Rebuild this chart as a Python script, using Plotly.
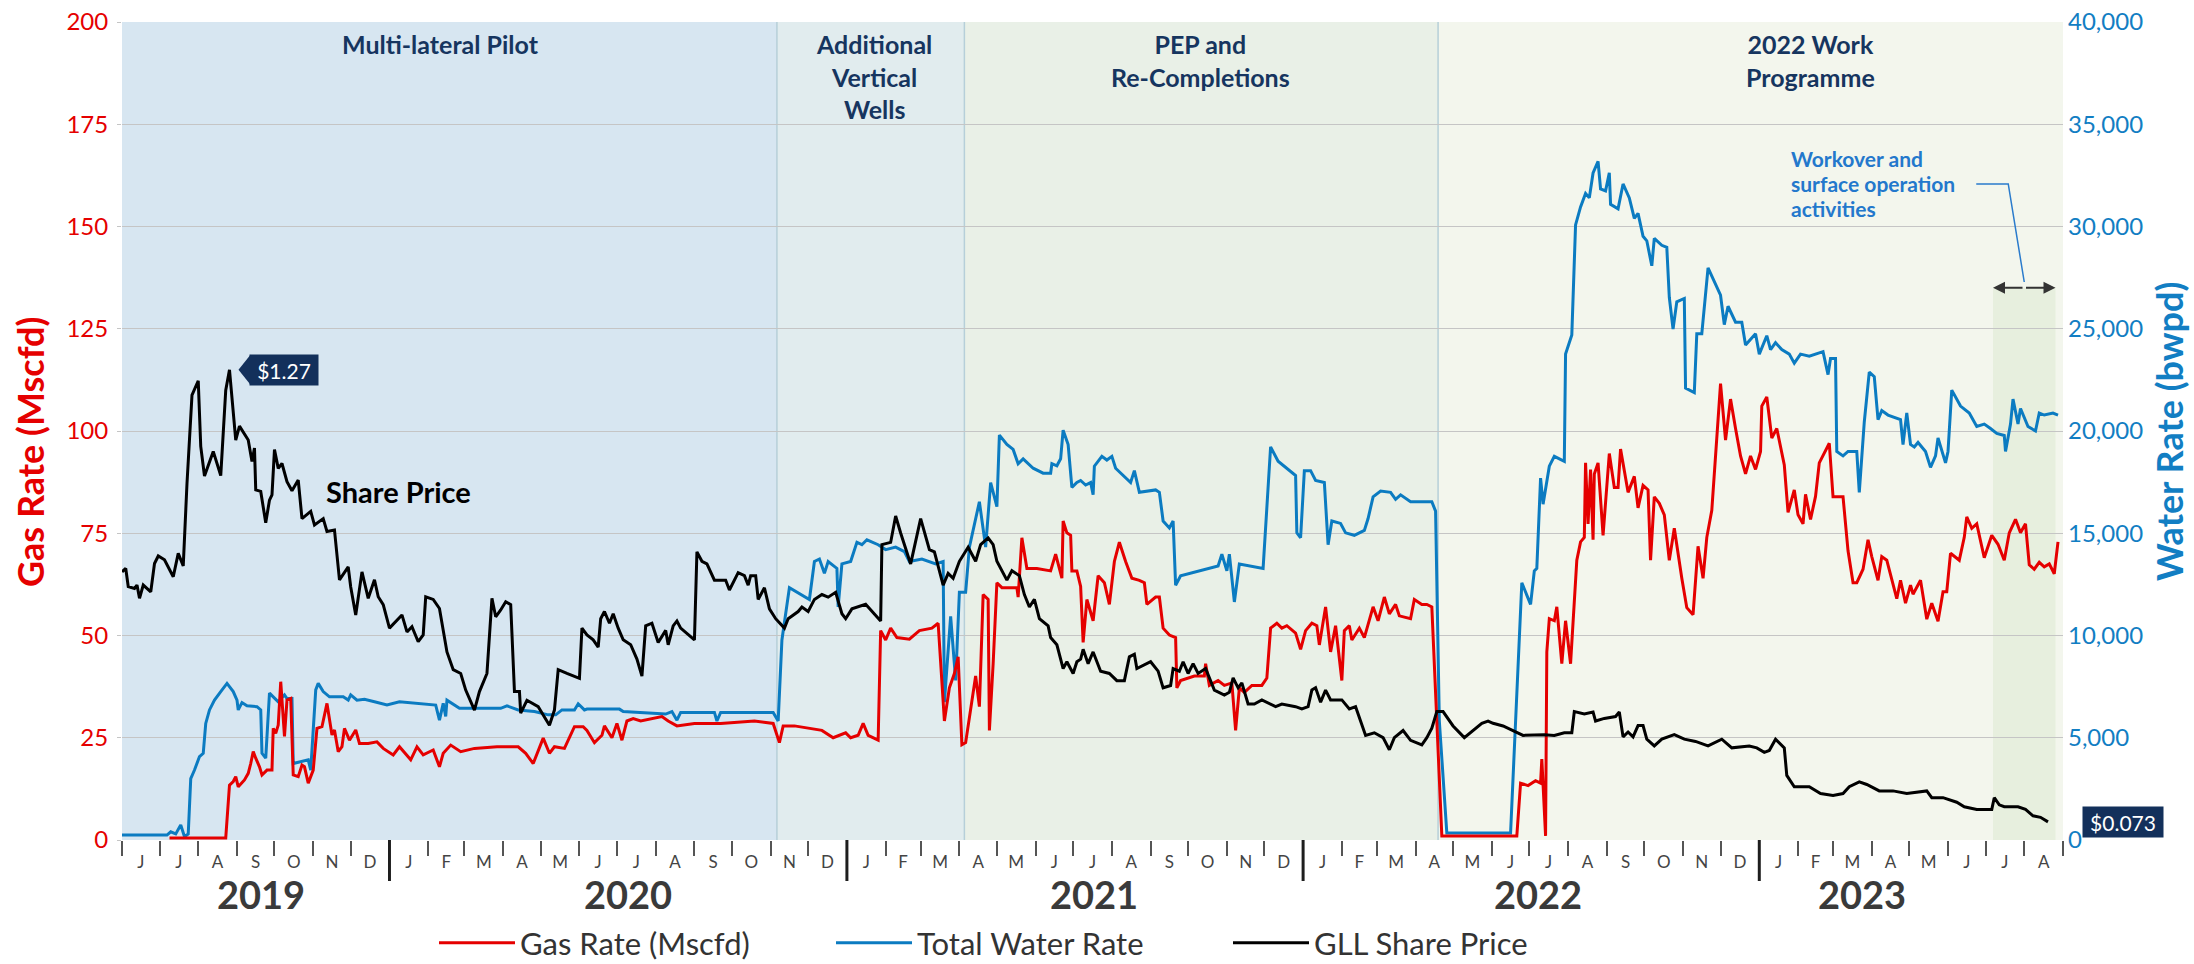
import pandas as pd
import plotly.graph_objects as go

# ---------------------------------------------------------------- data
# x values are day offsets counted from 1 Jan 2020 (negative = 2019)
BASE_DATE = pd.Timestamp("2020-01-01")
X_START, X_END = "2019-06-01", "2023-09-01"

GAS_POINTS = [  # (day, Mscfd)
    (-176, 0.5), (-131, 0.5), (-128, 13.4), (-125, 14.3), (-123, 15.5), (-121, 13.0), (-116, 14.7),
    (-113, 16.3), (-111, 18.7), (-109, 21.6), (-107, 20.0), (-104, 17.9), (-102, 15.9), (-98, 17.1),
    (-94, 17.1), (-93, 27.3), (-91, 26.1), (-89, 28.1), (-87, 38.7), (-84, 25.3), (-82, 34.2),
    (-79, 34.6), (-77, 15.9), (-73, 15.5), (-70, 18.3), (-68, 17.9), (-65, 13.9), (-61, 17.1),
    (-58, 27.3), (-54, 27.7), (-50, 33.4), (-46, 25.7), (-44, 26.9), (-41, 21.6), (-38, 22.8),
    (-36, 27.3), (-32, 24.4), (-27, 26.9), (-24, 23.6), (-17, 23.6), (-10, 24.0), (-5, 22.4),
    (3, 20.8), (8, 22.8), (17, 19.6), (22, 22.8), (27, 20.8), (35, 22.0), (40, 17.9), (43, 21.2),
    (49, 23.2), (57, 21.6), (68, 22.4), (86, 22.8), (103, 22.8), (109, 21.2), (115, 18.7),
    (123, 24.9), (128, 21.2), (132, 22.8), (140, 22.4), (148, 27.7), (155, 27.7),
    (158, 26.8), (164, 23.8), (170, 25.6), (172, 27.9), (178, 25.0), (182, 28.5), (186, 24.4),
    (190, 29.1), (195, 29.7), (201, 29.1), (211, 29.7), (218, 30.2), (223, 29.1), (230, 27.9),
    (244, 28.5), (265, 28.5), (292, 29.1), (307, 28.5), (312, 23.8), (315, 27.9), (324, 27.9),
    (335, 27.3), (346, 26.8), (355, 25.0), (365, 26.2), (369, 25.0), (375, 25.6), (379, 28.5),
    (383, 25.6), (391, 24.4), (393, 51.2), (397, 48.9), (401, 51.8), (406, 49.5), (416, 49.1),
    (424, 51.2), (434, 51.8), (439, 53.0), (441, 43.1), (444, 29.1), (448, 37.2), (452, 40.7),
    (455, 44.8), (458, 23.3), (461, 23.8), (465, 32.6), (469, 40.1), (472, 32.6), (475, 60.0),
    (479, 58.8), (480, 26.8), (483, 43.1), (486, 62.9), (490, 61.7), (502, 61.7), (503, 59.4),
    (506, 73.9), (510, 66.4), (518, 66.4), (529, 65.8), (533, 69.9), (538, 64.0), (539, 78.0),
    (542, 75.1), (545, 74.5), (546, 65.8), (550, 65.8),
    (553, 62.0), (555, 48.3), (558, 58.8), (563, 53.6), (567, 64.6), (572, 62.9), (576, 57.6),
    (580, 68.1), (584, 72.8), (589, 68.1), (594, 64.0), (600, 63.5), (604, 62.9), (606, 57.6),
    (613, 59.4), (616, 59.4), (619, 51.8), (624, 50.1), (629, 49.5), (630, 37.2), (633, 39.0),
    (644, 40.1), (652, 40.1), (653, 43.1), (656, 37.8), (663, 39.0), (668, 37.8), (674, 38.4),
    (677, 26.8), (680, 37.2), (684, 36.1), (690, 37.8), (698, 37.8), (702, 39.6), (705, 51.8),
    (710, 53.0), (714, 51.8), (718, 52.4), (725, 50.6), (729, 46.6), (733, 51.2), (738, 53.0),
    (742, 52.4), (744, 47.7), (749, 57.0), (753, 46.0), (757, 52.4), (762, 39.0), (764, 51.2),
    (768, 52.4), (770, 48.9), (776, 51.8), (780, 49.5), (784, 54.1), (787, 57.0), (791, 53.6),
    (796, 59.4), (800, 55.3), (805, 57.6), (808, 54.8), (817, 54.1), (820, 58.8), (826, 57.6),
    (830, 57.6), (834, 57.0), (842, 1.0), (902, 1.0), (905, 13.9), (911, 13.3), (917, 14.5),
    (921, 13.9), (922, 19.8), (925, 1.0), (926, 46.0), (928, 54.1), (932, 53.6), (934, 57.0),
    (938, 43.1), (941, 53.6), (945, 43.1),
    (950, 68.4), (953, 72.9), (956, 74.0), (957, 92.2), (959, 77.3), (961, 90.6), (963, 73.4),
    (964, 89.5), (967, 92.2), (971, 74.5), (973, 82.8), (976, 94.5), (980, 86.2), (983, 86.2),
    (985, 95.6), (991, 85.0), (996, 88.9), (999, 81.2), (1003, 86.7), (1007, 85.6), (1009, 68.4),
    (1012, 83.9), (1016, 82.3), (1020, 79.5), (1024, 68.4), (1028, 76.2), (1034, 64.0),
    (1038, 56.8), (1043, 55.1), (1047, 71.8), (1051, 64.0), (1054, 74.0), (1058, 80.6),
    (1061, 93.9), (1065, 111.6), (1069, 97.8), (1073, 107.8), (1077, 100.6), (1081, 93.9),
    (1085, 89.5), (1089, 93.9), (1093, 90.6), (1097, 95.0), (1098, 106.1), (1102, 108.3),
    (1106, 98.3), (1110, 100.6), (1116, 91.7), (1119, 80.1), (1124, 85.6), (1127, 79.5),
    (1131, 77.3), (1133, 84.5), (1137, 78.4), (1141, 84.0), (1144, 92.2), (1148, 94.5),
    (1152, 97.0), (1155, 83.9), (1163, 83.9), (1167, 70.7), (1171, 62.9), (1174, 62.9),
    (1179, 66.2), (1183, 73.4), (1186, 69.3), (1191, 63.5), (1194, 69.3), (1198, 68.4),
    (1202, 64.0), (1206, 59.0), (1209, 63.5), (1213, 57.9), (1217, 62.3), (1219, 60.1),
    (1225, 63.5), (1230, 54.0), (1234, 57.9), (1239, 53.5), (1243, 60.7), (1246, 60.7),
    (1249, 70.1), (1256, 68.4), (1260, 74.0), (1262, 79.0), (1266, 76.2), (1270, 77.3),
    (1276, 69.0), (1282, 74.5), (1287, 72.3), (1292, 68.4), (1296, 75.1), (1301, 78.4),
    (1305, 75.1), (1309, 77.3), (1312, 67.3), (1316, 66.2), (1320, 67.9), (1324, 66.8),
    (1328, 67.5), (1332, 65.1), (1335, 72.9),
]

WATER_POINTS = [  # (day, bwpd)
    (-214, 240), (-178, 240), (-175, 400), (-171, 300), (-167, 740), (-164, 160), (-161, 300),
    (-159, 3000), (-156, 3420), (-152, 4080), (-149, 4240), (-147, 5700), (-144, 6360),
    (-140, 6840), (-135, 7260), (-130, 7660), (-125, 7260), (-122, 6840), (-121, 6360),
    (-118, 6720), (-114, 6560), (-106, 6520), (-103, 6360), (-102, 4240), (-99, 4000),
    (-96, 7180), (-89, 6760), (-84, 7100), (-82, 6920), (-78, 6920), (-77, 3740), (-65, 3920),
    (-63, 3420), (-59, 7340), (-57, 7660), (-53, 7260), (-48, 7000), (-37, 7000), (-33, 6840),
    (-31, 7100), (-26, 6840), (-20, 6880), (-12, 6760), (-2, 6600), (8, 6760), (25, 6680),
    (37, 6600), (40, 5860), (43, 6680), (45, 6040), (46, 6840), (56, 6440), (89, 6440),
    (94, 6560), (103, 6360), (116, 6280), (127, 6120), (133, 6120), (138, 6360), (148, 6360),
    (151, 6660), (156, 6360), (158, 6400), (184, 6400), (187, 6280), (221, 6160), (226, 6280),
    (230, 5860), (233, 6240), (260, 6240), (262, 5820), (265, 6240), (307, 6240), (311, 5820),
    (314, 9780), (320, 12340), (330, 12000), (336, 11760), (340, 13620), (344, 13740),
    (348, 13040), (351, 13620), (358, 13280), (359, 11400), (362, 13500), (369, 13620),
    (374, 14560), (378, 14440), (382, 14680), (391, 14440), (397, 14200), (405, 14320),
    (412, 14100), (416, 13620), (426, 13740), (437, 13500), (443, 13620), (444, 6740),
    (449, 10940), (453, 7800), (456, 12120), (461, 12120), (464, 14320), (472, 16540),
    (477, 14320), (481, 17480), (486, 16300), (488, 19800), (494, 19340), (499, 19100),
    (503, 18400), (507, 18640), (515, 18180), (523, 17940), (529, 17940), (530, 18400),
    (534, 18300), (537, 18640), (539, 20040), (543, 19340), (546, 17240), (550, 17480),
    (553, 17580), (557, 17360), (561, 17480), (563, 16880), (564, 18280), (570, 18760),
    (574, 18580), (578, 18760), (581, 18180), (585, 17940), (593, 17480), (596, 18060),
    (600, 17000), (613, 17120), (616, 17000), (619, 15600), (624, 15260), (627, 15600),
    (629, 12460), (633, 12920), (641, 13040), (655, 13280), (663, 13400), (666, 13980),
    (670, 13160), (672, 13980), (676, 11640), (680, 13500), (690, 13400), (699, 13280),
    (705, 19220), (711, 18520), (725, 17820), (726, 15020), (729, 14780), (732, 18060),
    (737, 18060), (741, 17580), (748, 17480), (751, 14440), (754, 15600), (761, 15480),
    (765, 15020), (772, 14900), (780, 15140), (783, 15720), (787, 16780), (793, 17060),
    (801, 17000), (805, 16660), (809, 16880), (817, 16540), (834, 16540), (837, 16080),
    (840, 5820), (846, 340), (897, 340), (901, 5820), (906, 12580), (913, 11520), (916, 13160),
    (918, 13280), (921, 17700), (923, 16420), (928, 18280), (932, 18760), (940, 18520),
    (941, 23760), (946, 24700), (949, 30080), (953, 30960), (957, 31620), (960, 31400),
    (963, 32620), (967, 33180), (969, 31840), (973, 31740), (976, 32620), (977, 31080),
    (983, 30860), (987, 32080), (992, 31400), (996, 30400), (999, 30640), (1003, 29520),
    (1006, 29300), (1010, 28080), (1012, 29420), (1018, 29080), (1022, 28980), (1024, 26540),
    (1027, 24980), (1030, 26320), (1036, 26480), (1037, 22100), (1044, 21880), (1046, 24760),
    (1050, 24760), (1055, 27980), (1065, 26640), (1068, 25200), (1071, 26100), (1077, 25320),
    (1082, 25320), (1085, 24200), (1093, 24760), (1096, 23760), (1102, 24660), (1105, 23980),
    (1109, 24320), (1114, 23980), (1120, 23760), (1124, 23320), (1129, 23760), (1136, 23660),
    (1147, 23880), (1151, 22760), (1153, 23540), (1157, 23540), (1158, 19000), (1163, 18780),
    (1167, 19000), (1174, 19000), (1176, 17000), (1180, 20440), (1184, 22880), (1188, 22660),
    (1191, 20560), (1194, 21000), (1199, 20780), (1209, 20560), (1211, 19340), (1214, 20880),
    (1217, 19340), (1220, 19220), (1223, 19440), (1229, 19000), (1233, 18220), (1237, 18780),
    (1239, 19660), (1243, 18780), (1245, 18440), (1247, 19000), (1250, 22000), (1257, 21220),
    (1264, 20880), (1270, 20220), (1276, 20340), (1281, 20120), (1286, 19880), (1292, 19780),
    (1293, 19000), (1297, 20340), (1299, 21560), (1303, 20340), (1305, 21100), (1311, 20220),
    (1317, 20000), (1320, 20880), (1324, 20780), (1331, 20880), (1335, 20780),
]

PRICE_POINTS = [  # (day, A$ per share)
    (-214, 0.735), (-211, 0.744), (-209, 0.696), (-204, 0.691), (-202, 0.700), (-200, 0.665),
    (-197, 0.700), (-191, 0.682), (-188, 0.757), (-185, 0.777), (-180, 0.767), (-173, 0.722),
    (-169, 0.784), (-165, 0.751), (-162, 0.969), (-158, 1.203), (-153, 1.241), (-151, 1.067),
    (-148, 0.989), (-141, 1.054), (-135, 0.990), (-131, 1.216), (-128, 1.270), (-123, 1.084),
    (-120, 1.121), (-113, 1.084), (-110, 1.027), (-108, 1.063), (-107, 0.952), (-103, 0.948),
    (-99, 0.865), (-96, 0.925), (-94, 0.939), (-92, 1.059), (-89, 1.009), (-86, 1.022),
    (-82, 0.974), (-78, 0.950), (-73, 0.978), (-70, 0.876), (-63, 0.895), (-60, 0.859),
    (-53, 0.876), (-50, 0.842), (-44, 0.846), (-40, 0.714), (-33, 0.748), (-31, 0.695),
    (-27, 0.621), (-22, 0.735), (-17, 0.665), (-12, 0.714), (-9, 0.669), (-5, 0.648),
    (0, 0.586), (10, 0.621), (14, 0.576), (18, 0.590), (23, 0.550), (27, 0.568), (29, 0.669),
    (35, 0.662), (40, 0.638), (46, 0.523), (51, 0.476), (57, 0.466), (61, 0.422), (68, 0.369),
    (72, 0.418), (78, 0.466), (82, 0.665), (85, 0.616), (89, 0.634), (93, 0.656), (97, 0.648),
    (100, 0.418), (104, 0.418), (105, 0.361), (110, 0.395), (119, 0.378), (123, 0.356),
    (128, 0.329), (132, 0.369), (135, 0.476), (142, 0.466), (152, 0.453), (154, 0.586),
    (158, 0.568), (163, 0.555), (167, 0.536), (169, 0.611), (172, 0.630), (176, 0.599),
    (179, 0.624), (183, 0.586), (187, 0.555), (193, 0.542), (198, 0.504), (202, 0.459),
    (205, 0.592), (210, 0.599), (215, 0.548), (221, 0.580), (223, 0.542), (227, 0.592),
    (230, 0.605), (233, 0.586), (244, 0.555), (246, 0.788), (250, 0.763), (254, 0.756),
    (260, 0.713), (269, 0.713), (272, 0.687), (279, 0.733), (284, 0.725), (287, 0.700),
    (289, 0.725), (293, 0.725), (295, 0.662), (300, 0.693), (304, 0.637), (309, 0.611),
    (316, 0.586), (319, 0.611), (327, 0.630), (330, 0.642), (335, 0.630), (340, 0.662),
    (346, 0.675), (351, 0.668), (357, 0.681), (362, 0.624), (365, 0.611), (370, 0.637),
    (381, 0.649), (393, 0.605), (394, 0.807), (401, 0.813), (405, 0.883), (409, 0.838),
    (413, 0.800), (417, 0.756), (425, 0.876), (432, 0.794), (436, 0.788), (443, 0.700),
    (447, 0.731), (451, 0.718), (456, 0.763), (463, 0.800), (469, 0.763), (473, 0.807),
    (479, 0.825), (483, 0.807), (486, 0.763), (494, 0.713), (498, 0.738), (504, 0.725),
    (508, 0.675), (512, 0.642), (516, 0.662), (520, 0.611), (527, 0.592), (529, 0.561),
    (534, 0.542), (539, 0.479), (542, 0.497), (547, 0.466), (550, 0.497), (553, 0.504),
    (555, 0.530), (559, 0.492), (563, 0.523), (569, 0.472), (576, 0.466), (582, 0.447),
    (588, 0.447), (592, 0.510), (596, 0.517), (598, 0.479), (609, 0.497), (615, 0.472),
    (619, 0.428), (625, 0.434), (627, 0.479), (632, 0.472), (635, 0.497), (639, 0.466),
    (643, 0.492), (647, 0.466), (653, 0.479), (660, 0.422), (668, 0.409), (672, 0.416),
    (675, 0.454), (679, 0.428), (682, 0.441), (687, 0.385), (692, 0.385), (698, 0.396),
    (709, 0.378), (714, 0.385), (725, 0.378), (730, 0.372), (735, 0.378), (738, 0.422),
    (741, 0.428), (745, 0.390), (749, 0.422), (753, 0.396), (762, 0.396), (768, 0.372),
    (773, 0.378), (777, 0.340), (781, 0.302), (788, 0.309), (795, 0.296), (800, 0.264),
    (804, 0.296), (811, 0.315), (817, 0.289), (826, 0.277), (830, 0.296), (834, 0.321),
    (838, 0.365), (843, 0.365), (847, 0.347), (851, 0.327), (860, 0.296), (869, 0.321),
    (874, 0.334), (879, 0.340), (883, 0.334), (891, 0.327), (899, 0.315), (907, 0.302),
    (924, 0.304), (932, 0.302), (940, 0.309), (946, 0.309), (948, 0.365), (956, 0.359),
    (963, 0.364), (965, 0.340), (972, 0.347), (981, 0.352), (984, 0.364), (987, 0.298),
    (991, 0.311), (995, 0.298), (999, 0.328), (1003, 0.328), (1006, 0.292), (1012, 0.274),
    (1018, 0.292), (1028, 0.304), (1036, 0.292), (1045, 0.286), (1055, 0.274), (1066, 0.292),
    (1074, 0.269), (1088, 0.274), (1094, 0.269), (1100, 0.257), (1104, 0.262), (1109, 0.292),
    (1116, 0.269), (1118, 0.196), (1124, 0.166), (1136, 0.166), (1145, 0.148), (1155, 0.143),
    (1163, 0.148), (1168, 0.166), (1176, 0.179), (1182, 0.172), (1192, 0.155), (1203, 0.155),
    (1214, 0.148), (1230, 0.155), (1234, 0.137), (1243, 0.137), (1254, 0.125), (1260, 0.113),
    (1270, 0.106), (1282, 0.106), (1284, 0.137), (1288, 0.118), (1292, 0.113), (1303, 0.113),
    (1309, 0.106), (1315, 0.089), (1321, 0.085), (1327, 0.073),
]

MONTH_INITIALS = ["J", "F", "M", "A", "M", "J", "J", "A", "S", "O", "N", "D"]
YEAR_LABELS = ["2019", "2020", "2021", "2022", "2023"]
YEAR_LABEL_AT = ["2019-09-20", "2020-07-10", "2021-07-18", "2022-07-08", "2023-03-24"]
YEAR_BREAKS = ["2020-01-01", "2021-01-01", "2022-01-01", "2023-01-01"]

GAS_TICKS = [0, 25, 50, 75, 100, 125, 150, 175, 200]
WATER_TICKS = [0, 5000, 10000, 15000, 20000, 25000, 30000, 35000, 40000]
PRICE_RANGE = [0.025, 2.191]

PHASE_LINES = [["Multi-lateral Pilot"], ["Additional", "Vertical", "Wells"],
               ["PEP and", "Re-Completions"], ["2022 Work", "Programme"]]
PHASE_START = ["2019-06-01", "2020-11-06", "2021-04-05", "2022-04-19"]
PHASE_END = ["2020-11-06", "2021-04-05", "2022-04-19", "2023-09-01"]
PHASE_LABEL_AT = ["2020-02-11", "2021-01-23", "2021-10-11", "2023-02-11"]

WORKOVER_START, WORKOVER_END = "2023-07-07", "2023-08-26"
WORKOVER_TOP = 27000
WORKOVER_TEXT = ["Workover and", "surface operation", "activities"]

# ---------------------------------------------------------------- styles
RED = "#e50000"
BLUE = "#0b7bc1"
BLUE_TXT = "#127ec3"
NAVY = "#16355f"
CALLOUT = "#13305b"
NOTE_BLUE = "#2378cc"
PHASE_FILL = ["#d7e6f1", "#e1ecee", "#e9f0e7", "#f3f6ed"]
WORKOVER_FILL = "#e7efde"
FONT = "Lato, 'Open Sans', sans-serif"

PLOT_L, PLOT_R, PLOT_T, PLOT_B = 122, 2063, 22, 840
W, H = 2194, 964
PH = PLOT_B - PLOT_T


def py(pix):  # paper y from a pixel row
    return (PLOT_B - pix) / PH


def to_series(points):
    days, vals = zip(*points)
    return BASE_DATE + pd.to_timedelta(list(days), unit="D"), list(vals)


water_x, water_y = to_series(WATER_POINTS)
gas_x, gas_y = to_series(GAS_POINTS)
price_x, price_y = to_series(PRICE_POINTS)

fig = go.Figure()
fig.add_trace(go.Scatter(x=water_x, y=water_y, name="Total Water Rate", mode="lines",
                         line=dict(color=BLUE, width=3), yaxis="y", legendrank=2,
                         hoverinfo="skip"))
fig.add_trace(go.Scatter(x=gas_x, y=gas_y, name="Gas Rate (Mscfd)", mode="lines",
                         line=dict(color=RED, width=3), yaxis="y2", legendrank=1,
                         hoverinfo="skip"))
fig.add_trace(go.Scatter(x=price_x, y=price_y, name="GLL Share Price", mode="lines",
                         line=dict(color="black", width=3), yaxis="y3", legendrank=3,
                         hoverinfo="skip"))

# month ticks / labels
month_starts = pd.date_range(X_START, X_END, freq="MS")
month_mids = month_starts[:-1] + (month_starts[1:] - month_starts[:-1]) / 2
month_text = [MONTH_INITIALS[d.month - 1] for d in month_starts[:-1]]

shapes = []
for s, e, c in zip(PHASE_START, PHASE_END, PHASE_FILL):
    shapes.append(dict(type="rect", xref="x", yref="paper", x0=s, x1=e, y0=0, y1=1,
                       fillcolor=c, line=dict(width=0), layer="below"))
shapes.append(dict(type="rect", xref="x", yref="y", x0=WORKOVER_START, x1=WORKOVER_END,
                   y0=0, y1=WORKOVER_TOP, fillcolor=WORKOVER_FILL, line=dict(width=0),
                   layer="below"))
for s in PHASE_START[1:]:
    shapes.append(dict(type="line", xref="x", yref="paper", x0=s, x1=s, y0=0, y1=1,
                       line=dict(color="#b6cfd9", width=1.5), layer="below"))
for b in YEAR_BREAKS:
    shapes.append(dict(type="line", xref="x", yref="paper", x0=b, x1=b, y0=0,
                       y1=py(881), line=dict(color="#1e1e1e", width=3)))

wk_mid = pd.Timestamp(WORKOVER_START) + (pd.Timestamp(WORKOVER_END) - pd.Timestamp(WORKOVER_START)) / 2
shapes.append(dict(type="path", xref="x", xsizemode="pixel", xanchor=wk_mid, yref="paper",
                   path=f"M-48,{py(184)} L-16,{py(184)} L0,{py(282)}",
                   line=dict(color="#2a7bcc", width=1.5)))

annotations = []
for txt, at in zip(YEAR_LABELS, YEAR_LABEL_AT):
    annotations.append(dict(text=txt, x=at, xref="x", y=py(894), yref="paper",
                            yanchor="middle", showarrow=False,
                            font=dict(family=FONT, size=38, color="#3a3a3a", weight="bold")))
for lines, at in zip(PHASE_LINES, PHASE_LABEL_AT):
    annotations.append(dict(text="<br>".join(lines), x=at, xref="x", y=py(28), yref="paper",
                            yanchor="top", showarrow=False, borderpad=0,
                            font=dict(family=FONT, size=25, color=NAVY, weight="bold")))
for txt, row in zip(WORKOVER_TEXT, [158, 183, 208]):
    annotations.append(dict(text=txt, x=wk_mid, xref="x", xshift=-235, xanchor="left",
                            y=py(row), yref="paper", yanchor="middle", showarrow=False,
                            font=dict(family=FONT, size=21, color=NOTE_BLUE, weight="bold")))
for x_at, shift in [(WORKOVER_START, 31), (WORKOVER_END, -31)]:
    annotations.append(dict(text="", x=x_at, xref="x", y=WORKOVER_TOP, yref="y",
                            ax=shift, ay=0, showarrow=True, arrowhead=2, arrowsize=1.2,
                            arrowwidth=2, arrowcolor="#333333"))

annotations.append(dict(text="Share Price", x="2019-11-10", xref="x", xanchor="left",
                        y=py(492), yref="paper", yanchor="middle", showarrow=False,
                        font=dict(family=FONT, size=29, color="black", weight="bold")))

# share-price callouts: peak and latest value
peak_i = max(range(len(price_y)), key=lambda i: price_y[i])
for i, label, tip, gap, bw in [(peak_i, f"${price_y[peak_i]:.2f}", 9, 20, 64),
                               (len(price_y) - 1, f"${price_y[-1]:.3f}", 23, 34, 76)]:
    yfrac = (price_y[i] - PRICE_RANGE[0]) / (PRICE_RANGE[1] - PRICE_RANGE[0])
    shapes.append(dict(type="path", xref="x", xsizemode="pixel", xanchor=price_x[i],
                       yref="paper", ysizemode="pixel", yanchor=yfrac,
                       path=f"M{tip},0 L{gap + 1},15 L{gap + 1},-15 Z",
                       fillcolor=CALLOUT, line=dict(width=0)))
    annotations.append(dict(text=label, x=price_x[i], xref="x", y=price_y[i], yref="y3",
                            xanchor="left", yanchor="middle", xshift=gap, showarrow=False,
                            bgcolor=CALLOUT, width=bw, height=26, borderpad=2,
                            font=dict(family=FONT, size=21, color="white")))

# axis titles
annotations.append(dict(text="Gas Rate (Mscfd)", textangle=-90, xref="paper",
                        x=(30 - PLOT_L) / (PLOT_R - PLOT_L), yref="paper", y=py(452),
                        xanchor="center", yanchor="middle", showarrow=False,
                        font=dict(family=FONT, size=36, color=RED, weight="bold")))
annotations.append(dict(text="Water Rate (bwpd)", textangle=-90, xref="paper",
                        x=(2169 - PLOT_L) / (PLOT_R - PLOT_L), yref="paper", y=py(432),
                        xanchor="center", yanchor="middle", showarrow=False,
                        font=dict(family=FONT, size=36, color=BLUE_TXT, weight="bold")))

fig.update_layout(
    width=W, height=H,
    margin=dict(l=PLOT_L, r=W - PLOT_R, t=PLOT_T, b=H - PLOT_B, autoexpand=False),
    paper_bgcolor="white", plot_bgcolor="white",
    font=dict(family=FONT),
    showlegend=True,
    xaxis=dict(type="date", range=[X_START, X_END], tickmode="array",
               tickvals=list(month_mids), ticktext=month_text, ticks="",
               tickfont=dict(family=FONT, size=17, color="#444444"), ticklabelstandoff=10,
               showgrid=False, zeroline=False, showline=False, automargin=False,
               minor=dict(tickmode="array", tickvals=list(month_starts), ticks="outside",
                          ticklen=15, tickwidth=1.5, tickcolor="#555555", showgrid=False)),
    yaxis=dict(range=[0, 40000], tickmode="array", tickvals=WATER_TICKS,
               ticktext=[f"{v:,}" for v in WATER_TICKS], side="right", showgrid=True,
               gridcolor="#c5c5c5", gridwidth=1.3, zeroline=False, showline=False,
               ticks="", ticklabelstandoff=4, automargin=False,
               tickfont=dict(family=FONT, size=24, color=BLUE_TXT)),
    yaxis2=dict(range=[0, 200], overlaying="y", side="left", tickmode="array",
                tickvals=GAS_TICKS, showgrid=False, zeroline=False, showline=False,
                ticks="outside", ticklen=4, tickcolor="#c5c5c5", ticklabelstandoff=4,
                automargin=False, tickfont=dict(family=FONT, size=24, color=RED)),
    yaxis3=dict(range=PRICE_RANGE, overlaying="y", visible=False),
    legend=dict(orientation="h", xref="container", x=434 / W, xanchor="left",
                yref="container", y=(H - 943) / H, yanchor="middle", itemwidth=76,
                entrywidth=306, font=dict(family=FONT, size=31, color="#333333"),
                bgcolor="rgba(0,0,0,0)"),
    shapes=shapes,
    annotations=annotations,
)

fig.write_html("out.html", config={"displayModeBar": False},
               post_script="document.body.style.margin='0px';"
                           "document.body.style.padding='0px';"
                           "document.body.style.overflow='hidden';")
